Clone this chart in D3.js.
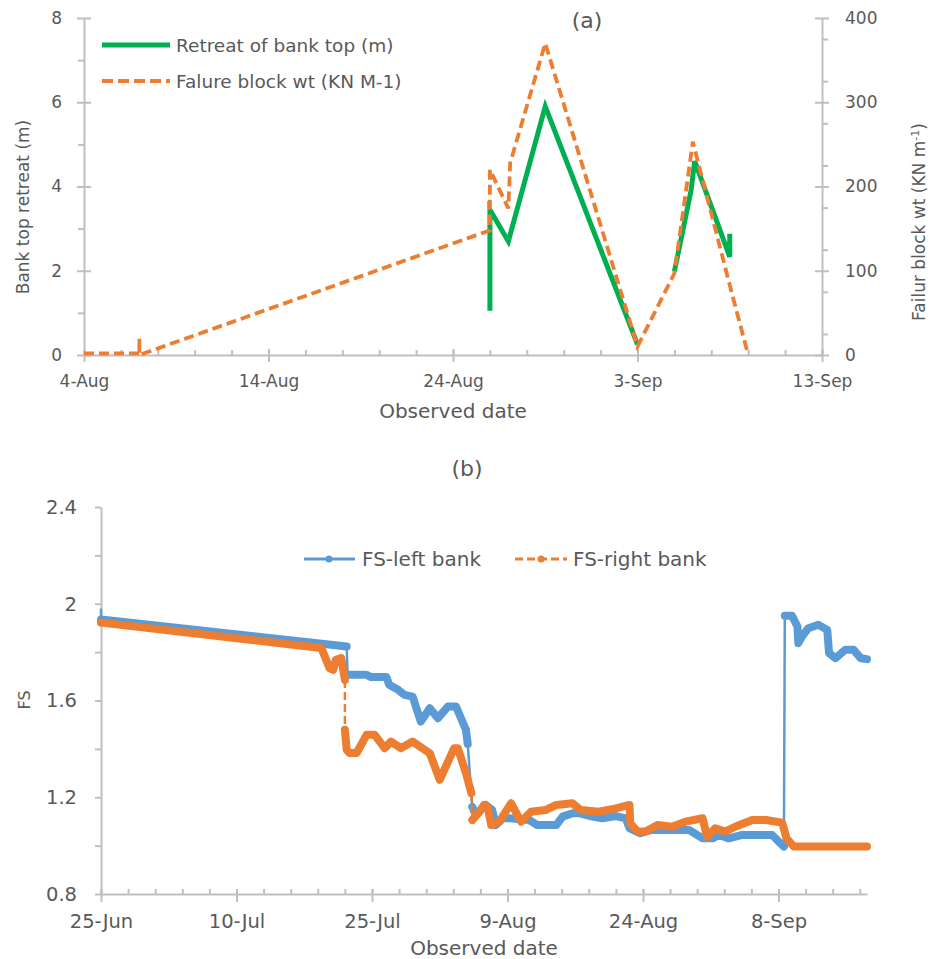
<!DOCTYPE html>
<html>
<head>
<meta charset="utf-8">
<script src="https://cdn.jsdelivr.net/npm/d3@7"></script>
<style>
  body { margin: 0; background: #fff; }
  svg text { font-family: "DejaVu Sans", sans-serif; fill: #595959; }
</style>
</head>
<body>
<svg id="chart" width="933" height="959"></svg>
<script>
// ---------- panel (a): days counted from 4-Aug ----------
var aTicks = ["2016-08-04", "2016-08-14", "2016-08-24", "2016-09-03", "2016-09-13"];
var retreatDay = [22, 22, 23, 25, 30, 31, 32, 32.9, 33.1, 35, 35];
var retreatM   = [1.05, 3.45, 2.7, 5.9, 0.25, null, 1.98, 3.9, 4.6, 2.33, 2.88];
var blockDay = [0, 3, 3, 3, 22, 22, 23, 23.1, 25, 30, 32, 33, 35, 36];
var blockWt  = [2, 2, 20, 0, 148, 220, 174, 228, 370, 10, 97, 253, 83, 0];

// ---------- panel (b): days counted from 25-Jun ----------
var bTicks = ["2016-06-25", "2016-07-10", "2016-07-25", "2016-08-09", "2016-08-24", "2016-09-08"];
var bEndDay = 84.8;
var leftDay = [0, 0, 27.2, 27.3, 29.4, 29.9, 31.6, 31.9, 32.9, 33.6, 34.5, 35.4, 36.4, 37.3, 38.4, 39.3,
  40.4, 40.6, 41.1, 41.5, 42.6, 43.3, 43.7, 44.5, 45.2, 47.4, 48.3, 50.4, 51.1, 52.2, 52.9, 54.4, 55.5,
  57.0, 58.1, 58.5, 59.7, 60.9, 65.1, 66.6, 67.7, 68.4, 69.5, 71.0, 74.3, 75.2, 75.6, 75.7, 76.5, 77.1,
  77.2, 77.6, 78.3, 79.4, 80.4, 80.6, 81.3, 82.4, 83.3, 84.1, 84.8];
var leftFS = [1.98, 1.935, 1.823, 1.706, 1.706, 1.697, 1.697, 1.665, 1.644, 1.623, 1.616, 1.513, 1.568,
  1.527, 1.575, 1.575, 1.479, 1.42, 1.16, 1.127, 1.168, 1.148, 1.085, 1.113, 1.113, 1.106, 1.085, 1.085,
  1.12, 1.134, 1.134, 1.12, 1.113, 1.122, 1.113, 1.072, 1.051, 1.065, 1.065, 1.03, 1.03, 1.044, 1.03,
  1.044, 1.044, 1.01, 0.996, 1.95, 1.95, 1.906, 1.837, 1.864, 1.899, 1.913, 1.892, 1.796, 1.775, 1.81,
  1.81, 1.775, 1.771];
var leftJump = [1, 3, 18, 47];   // segments drawn thin (sudden jumps)
var rightDay = [0, 24.4, 25.3, 25.7, 26.0, 26.6, 27.0, 27.0, 27.2, 27.5, 28.3, 29.4, 30.3, 31.4, 32.1,
  33.2, 34.5, 36.4, 37.5, 39.1, 39.5, 40.4, 41.0, 41.1, 41.9, 42.4, 42.8, 43.2, 44.1, 45.4, 46.5, 47.6,
  49.2, 50.4, 52.2, 53.1, 55.1, 57.0, 58.5, 58.6, 59.4, 60.3, 61.6, 63.2, 64.7, 66.6, 67.1, 68.0, 69.1,
  70.2, 72.1, 73.6, 75.4, 75.9, 76.7, 84.8];
var rightFS = [1.922, 1.817, 1.733, 1.727, 1.768, 1.775, 1.685, 1.479, 1.396, 1.383, 1.383, 1.458, 1.458,
  1.403, 1.43, 1.403, 1.43, 1.382, 1.272, 1.403, 1.403, 1.30, 1.217, 1.106, 1.14, 1.168, 1.161, 1.085,
  1.099, 1.175, 1.099, 1.14, 1.147, 1.168, 1.175, 1.147, 1.14, 1.154, 1.168, 1.092, 1.058, 1.058, 1.085,
  1.078, 1.099, 1.113, 1.037, 1.072, 1.058, 1.078, 1.106, 1.106, 1.095, 1.03, 0.996, 0.996];
var rightJump = [7, 23];

var gray = "#BFBFBF", green = "#00B050", orange = "#ED7D31", blue = "#5B9BD5";
var parseDay = d3.utcParse("%Y-%m-%d");
var fmt = d3.utcFormat("%-d-%b");
function addDays(start, n) { return new Date(start.getTime() + n * 864e5); }

var svg = d3.select("#chart");

function styleAxis(g, size) {
  g.select(".domain").attr("stroke", gray).attr("stroke-width", 2);
  g.selectAll(".tick line").attr("stroke", gray).attr("stroke-width", 2);
  g.selectAll(".tick text").attr("fill", "#595959").style("font-size", size + "px");
}

// ================= panel (a) =================
var a0 = parseDay(aTicks[0]);
var xA = d3.scaleUtc().domain([a0, parseDay(aTicks[aTicks.length - 1])]).range([84, 822]);
var yA = d3.scaleLinear().domain([0, 8]).range([355, 18]);
var yA2 = d3.scaleLinear().domain([0, 400]).range([355, 18]);

// minor ticks
svg.append("g").attr("transform", "translate(0,355)")
  .call(d3.axisTop(xA).tickValues(d3.range(0, 41, 2).map(function(d) { return addDays(a0, d); }))
    .tickSize(5).tickSizeOuter(0).tickFormat(""))
  .call(function(g) { styleAxis(g, 17); g.select(".domain").remove(); });
svg.append("g").attr("transform", "translate(84,0)")
  .call(d3.axisLeft(yA).tickValues(d3.range(1, 8, 2)).tickSize(6).tickSizeOuter(0).tickFormat(""))
  .call(function(g) { styleAxis(g, 17); g.select(".domain").remove(); });
svg.append("g").attr("transform", "translate(822,0)")
  .call(d3.axisRight(yA2).tickValues(d3.range(25, 400, 50)).tickSize(6).tickSizeOuter(0).tickFormat(""))
  .call(function(g) { styleAxis(g, 17); g.select(".domain").remove(); });

// major axes
svg.append("g").attr("transform", "translate(0,355)")
  .call(d3.axisBottom(xA).tickValues(aTicks.map(parseDay)).tickFormat(fmt)
    .tickSize(7).tickSizeOuter(0).tickPadding(13))
  .call(function(g) { styleAxis(g, 17); g.selectAll(".tick line").attr("y1", -6); });
svg.append("g").attr("transform", "translate(84,0)")
  .call(d3.axisLeft(yA).ticks(4).tickSize(7).tickSizeOuter(0).tickPadding(15))
  .call(function(g) { styleAxis(g, 17); g.selectAll(".tick line").attr("x1", 7); });
svg.append("g").attr("transform", "translate(822,0)")
  .call(d3.axisRight(yA2).ticks(4).tickSize(7).tickSizeOuter(0).tickPadding(16))
  .call(function(g) { styleAxis(g, 17); g.selectAll(".tick line").attr("x1", -7); });

var lineRetreat = d3.line()
  .defined(function(d, i) { return retreatM[i] !== null; })
  .x(function(d) { return xA(addDays(a0, d)); })
  .y(function(d, i) { return yA(retreatM[i]); });
svg.append("path").attr("d", lineRetreat(retreatDay))
  .attr("fill", "none").attr("stroke", green).attr("stroke-width", 5);

var lineBlock = d3.line()
  .x(function(d) { return xA(addDays(a0, d)); })
  .y(function(d, i) { return yA2(blockWt[i]); });
svg.append("path").attr("d", lineBlock(blockDay))
  .attr("fill", "none").attr("stroke", orange).attr("stroke-width", 3.8)
  .attr("stroke-dasharray", "10,5");

// legend (a)
svg.append("line").attr("x1", 102).attr("x2", 170).attr("y1", 45).attr("y2", 45)
  .attr("stroke", green).attr("stroke-width", 5);
svg.append("text").attr("x", 176).attr("y", 51.5).style("font-size", "18.5px").text("Retreat of bank top (m)");
svg.append("line").attr("x1", 102).attr("x2", 170).attr("y1", 81).attr("y2", 81)
  .attr("stroke", orange).attr("stroke-width", 3.8).attr("stroke-dasharray", "11,5");
svg.append("text").attr("x", 176).attr("y", 87.5).style("font-size", "18.5px").text("Falure block wt (KN M-1)");

svg.append("text").attr("x", 587).attr("y", 28).attr("text-anchor", "middle")
  .style("font-size", "22px").text("(a)");
svg.append("text").attr("x", 453).attr("y", 418).attr("text-anchor", "middle")
  .style("font-size", "20px").text("Observed date");
svg.append("text").attr("transform", "translate(29,207) rotate(-90)").attr("text-anchor", "middle")
  .style("font-size", "17px").text("Bank top retreat (m)");
var rt = svg.append("text").attr("transform", "translate(925,222) rotate(-90)").attr("text-anchor", "middle")
  .style("font-size", "17px");
rt.append("tspan").text("Failur block wt (KN m");
rt.append("tspan").attr("baseline-shift", "super").style("font-size", "11px").text("-1");
rt.append("tspan").text(")");

// ================= panel (b) =================
var b0 = parseDay(bTicks[0]);
var xB = d3.scaleUtc().domain([b0, addDays(b0, bEndDay)]).range([101, 867]);
var yB = d3.scaleLinear().domain([0.8, 2.4]).range([894, 507]);

svg.append("g").attr("transform", "translate(0,894)")
  .call(d3.axisTop(xB).tickValues(d3.range(0, 85, 3).map(function(d) { return addDays(b0, d); }))
    .tickSize(5).tickSizeOuter(0).tickFormat(""))
  .call(function(g) { styleAxis(g, 19); g.select(".domain").remove(); });
svg.append("g").attr("transform", "translate(101,0)")
  .call(d3.axisLeft(yB).tickValues([1.0, 1.4, 1.8, 2.2]).tickSize(6).tickSizeOuter(0).tickFormat(""))
  .call(function(g) { styleAxis(g, 19); g.select(".domain").remove(); });

svg.append("g").attr("transform", "translate(0,894)")
  .call(d3.axisBottom(xB).tickValues(bTicks.map(parseDay)).tickFormat(fmt)
    .tickSize(8).tickSizeOuter(0).tickPadding(12))
  .call(function(g) { styleAxis(g, 19.5); g.selectAll(".tick line").attr("y1", -5); });
svg.append("g").attr("transform", "translate(101,0)")
  .call(d3.axisLeft(yB).tickValues([0.8, 1.2, 1.6, 2, 2.4]).tickFormat(d3.format("~g"))
    .tickSize(6).tickSizeOuter(0).tickPadding(18))
  .call(function(g) { styleAxis(g, 19.5); });

function drawFS(days, vals, jumps, color, dash) {
  var pts = days.map(function(d, i) { return [xB(addDays(b0, d)), yB(vals[i])]; });
  var thin = [], thick = [], run = [pts[0]];
  for (var i = 1; i < pts.length; i++) {
    if (jumps.indexOf(i) >= 0) {
      thin.push([pts[i - 1], pts[i]]);
      thick.push(run);
      run = [pts[i]];
    } else {
      run.push(pts[i]);
    }
  }
  thick.push(run);
  var line = d3.line();
  thin.forEach(function(seg) {
    svg.append("path").attr("d", line(seg)).attr("fill", "none")
      .attr("stroke", color).attr("stroke-width", 2.5)
      .attr("stroke-dasharray", dash ? "8,4" : null);
  });
  thick.forEach(function(r) {
    if (r.length < 2) return;
    svg.append("path").attr("d", line(r)).attr("fill", "none")
      .attr("stroke", color).attr("stroke-width", 8)
      .attr("stroke-linejoin", "round").attr("stroke-linecap", "round");
  });
}
drawFS(leftDay, leftFS, leftJump, blue, false);
drawFS(rightDay, rightFS, rightJump, orange, true);

// legend (b)
svg.append("line").attr("x1", 304).attr("x2", 355).attr("y1", 559).attr("y2", 559)
  .attr("stroke", blue).attr("stroke-width", 3);
svg.append("circle").attr("cx", 329).attr("cy", 559).attr("r", 3.5).attr("fill", blue);
svg.append("text").attr("x", 362).attr("y", 566).style("font-size", "20px").text("FS-left bank");
svg.append("line").attr("x1", 515).attr("x2", 567).attr("y1", 559).attr("y2", 559)
  .attr("stroke", orange).attr("stroke-width", 3).attr("stroke-dasharray", "8,4");
svg.append("circle").attr("cx", 541).attr("cy", 559).attr("r", 3.5).attr("fill", orange);
svg.append("text").attr("x", 573).attr("y", 566).style("font-size", "20px").text("FS-right bank");

svg.append("text").attr("x", 467).attr("y", 476).attr("text-anchor", "middle")
  .style("font-size", "22px").text("(b)");
svg.append("text").attr("x", 484).attr("y", 955).attr("text-anchor", "middle")
  .style("font-size", "20px").text("Observed date");
svg.append("text").attr("transform", "translate(30,700) rotate(-90)").attr("text-anchor", "middle")
  .style("font-size", "16px").text("FS");
</script>
</body>
</html>
